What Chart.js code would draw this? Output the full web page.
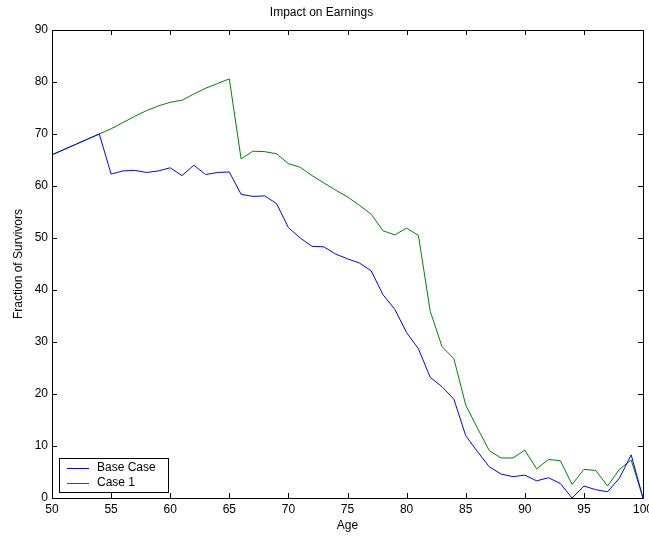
<!DOCTYPE html>
<html>
<head>
<meta charset="utf-8">
<script src="https://cdn.jsdelivr.net/npm/chart.js@4"></script>
<style>
  body { margin: 0; background: #fff; }
  canvas { display: block; }
</style>
</head>
<body>
<canvas id="earnings" width="649" height="538"></canvas>
<script>
const ages = [50, 51, 52, 53, 54, 55, 56, 57, 58, 59, 60, 61, 62, 63, 64, 65, 66, 67, 68, 69, 70,
  71, 72, 73, 74, 75, 76, 77, 78, 79, 80, 81, 82, 83, 84, 85, 86, 87, 88, 89, 90,
  91, 92, 93, 94, 95, 96, 97, 98, 99, 100];

const baseCase = [66.0, 67.0, 68.0, 69.0, 70.0, 62.3, 62.9, 63.0, 62.6, 62.9, 63.5,
  62.0, 64.0, 62.2, 62.6, 62.7, 58.4, 58.0, 58.1, 56.6, 52.0,
  50.0, 48.4, 48.3, 46.9, 46.0, 45.2, 43.7, 39.1, 36.3, 31.8,
  28.7, 23.2, 21.4, 19.0, 12.0, 8.9, 6.0, 4.6, 4.1, 4.4,
  3.3, 3.9, 2.8, 0.0, 2.3, 1.6, 1.2, 3.8, 8.3, 0.0];

const case1 = [66.0, 67.0, 68.0, 69.0, 70.0, 71.0, 72.2, 73.4, 74.5, 75.4, 76.1,
  76.5, 77.7, 78.8, 79.7, 80.6, 65.2, 66.7, 66.6, 66.2, 64.3,
  63.6, 62.0, 60.6, 59.2, 57.9, 56.3, 54.6, 51.4, 50.6, 51.9,
  50.5, 35.9, 29.1, 26.8, 17.9, 13.4, 9.1, 7.7, 7.7, 9.2,
  5.6, 7.4, 7.2, 2.6, 5.5, 5.3, 2.3, 5.5, 7.3, 0.0];

const xTicks = [50, 55, 60, 65, 70, 75, 80, 85, 90, 95, 100];
const yTicks = [0, 10, 20, 30, 40, 50, 60, 70, 80, 90];

const FONT = 'Liberation Sans, Arial, Helvetica, sans-serif';

// axes box with inward ticks on all four sides, like the original plot
const boxPlugin = {
  id: 'box',
  afterDraw(chart) {
    const {ctx, chartArea: a, scales} = chart;
    ctx.save();
    ctx.strokeStyle = '#000';
    ctx.lineWidth = 1;
    ctx.beginPath();
    ctx.rect(Math.round(a.left) + 0.5, Math.round(a.top) + 0.5,
      Math.round(a.right - a.left), Math.round(a.bottom - a.top));
    xTicks.forEach(v => {
      const x = Math.round(scales.x.getPixelForValue(v)) + 0.5;
      ctx.moveTo(x, a.bottom); ctx.lineTo(x, a.bottom - 5);
      ctx.moveTo(x, a.top); ctx.lineTo(x, a.top + 5);
    });
    yTicks.forEach(v => {
      const y = Math.round(scales.y.getPixelForValue(v)) + 0.5;
      ctx.moveTo(a.left, y); ctx.lineTo(a.left + 5, y);
      ctx.moveTo(a.right, y); ctx.lineTo(a.right - 5, y);
    });
    ctx.stroke();

    // legend in the lower left corner
    const lx = a.left + 7, ly = a.bottom - 40, lw = 109, lh = 34;
    ctx.fillStyle = '#fff';
    ctx.fillRect(lx, ly, lw, lh);
    ctx.strokeRect(lx + 0.5, ly + 0.5, lw, lh);
    ctx.font = '12px ' + FONT;
    ctx.textBaseline = 'middle';
    chart.data.datasets.forEach((ds, i) => {
      const y = ly + 10 + i * 15;
      ctx.strokeStyle = ds.borderColor;
      ctx.beginPath();
      ctx.moveTo(lx + 8, y + 0.5); ctx.lineTo(lx + 30, y + 0.5);
      ctx.stroke();
      ctx.fillStyle = '#000';
      ctx.fillText(ds.label, lx + 38, y);
    });
    ctx.restore();
  }
};

new Chart(document.getElementById('earnings'), {
  type: 'line',
  data: {
    datasets: [{
      label: 'Base Case',
      data: ages.map((a, i) => ({x: a, y: baseCase[i]})),
      borderColor: '#0000ff',
      borderWidth: 1,
      pointRadius: 0,
      tension: 0
    }, {
      label: 'Case 1',
      data: ages.map((a, i) => ({x: a, y: case1[i]})),
      borderColor: '#008000',
      borderWidth: 1,
      pointRadius: 0,
      tension: 0
    }]
  },
  options: {
    responsive: false,
    animation: false,
    layout: { padding: { left: 0, right: 6, top: 0, bottom: 0 } },
    plugins: {
      legend: { display: false },
      tooltip: { enabled: false },
      title: {
        display: true,
        text: 'Impact on Earnings',
        color: '#000',
        font: { family: FONT, size: 12, weight: 'normal' },
        padding: { top: 5, bottom: 10.6 }
      }
    },
    scales: {
      x: {
        type: 'linear',
        min: 50,
        max: 100,
        afterBuildTicks: s => { s.ticks = xTicks.map(v => ({value: v})); },
        ticks: { color: '#000', font: { family: FONT, size: 12 }, padding: 4, maxRotation: 0 },
        grid: { display: false, drawTicks: false },
        border: { display: false },
        title: { display: true, text: 'Age', color: '#000', font: { family: FONT, size: 12 }, padding: { top: 0, bottom: 5 } },
        afterFit: s => { s.height = 40; s.paddingLeft = 0; s.paddingRight = 0; }
      },
      y: {
        min: 0,
        max: 90,
        afterBuildTicks: s => { s.ticks = yTicks.map(v => ({value: v})); },
        ticks: { color: '#000', font: { family: FONT, size: 12 }, padding: 4 },
        grid: { display: false, drawTicks: false },
        border: { display: false },
        title: { display: true, text: 'Fraction of Survivors', color: '#000', font: { family: FONT, size: 12 }, padding: { top: 11, bottom: 0 } },
        afterFit: s => { s.width = 52; }
      }
    }
  },
  plugins: [boxPlugin]
});
</script>
</body>
</html>
